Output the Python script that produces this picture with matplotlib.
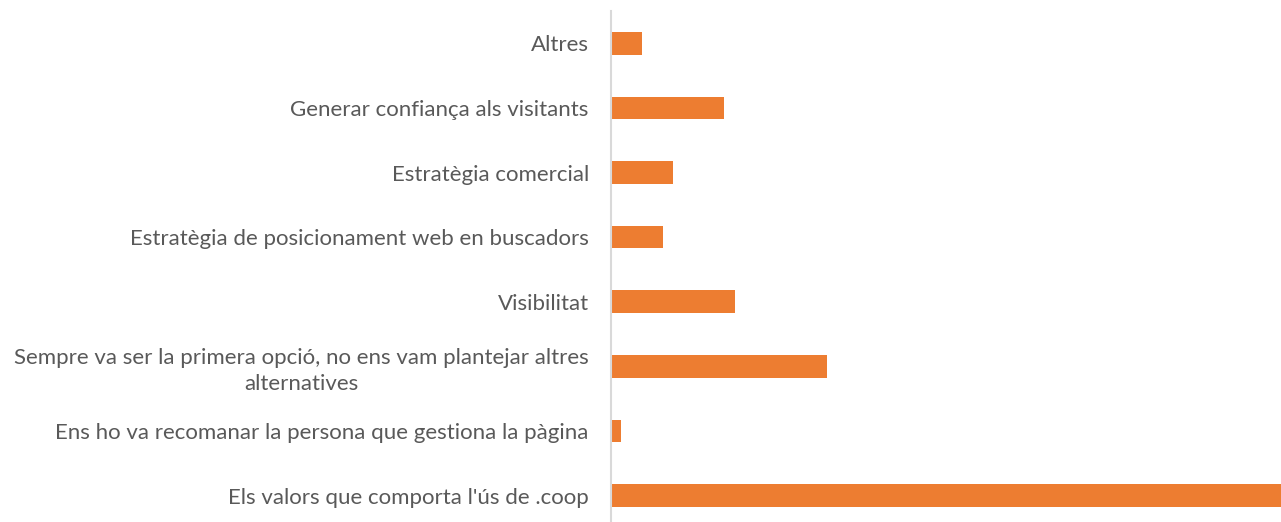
import matplotlib
matplotlib.use("Agg")
import matplotlib.pyplot as plt

# Dades (de baix a dalt)
categories = [
    "Els valors que comporta l'ús de .coop",
    "Ens ho va recomanar la persona que gestiona la pàgina",
    "Sempre va ser la primera opció, no ens vam plantejar altres\nalternatives",
    "Visibilitat",
    "Estratègia de posicionament web en buscadors",
    "Estratègia comercial",
    "Generar confiança als visitants",
    "Altres",
]
values = [65, 1, 21, 12, 5, 6, 11, 3]

BAR_COLOR = "#ED7D31"
TEXT_COLOR = "#595959"

plt.rcParams["font.family"] = ["Lato", "DejaVu Sans"]

fig = plt.figure(figsize=(12.81, 5.22), dpi=100)
ax = fig.add_axes([611 / 1281, 0, 1 - 611 / 1281, 1 - 11 / 522])

pos = range(len(categories))
ax.barh(pos, values, height=0.35, color=BAR_COLOR)

ax.set_yticks(list(pos))
ax.set_yticklabels(categories, fontsize=16, color=TEXT_COLOR)
for t in ax.get_yticklabels():
    t.set_multialignment("center")
    t.set_linespacing(1.35)
ax.tick_params(axis="y", length=0, pad=16)
ax.set_xticks([])
ax.set_xlim(0, 65)
ax.set_ylim(-0.41, 7.5)

for side in ("top", "right", "bottom"):
    ax.spines[side].set_visible(False)
ax.spines["left"].set_color("#D9D9D9")
ax.spines["left"].set_linewidth(1.5)

fig.savefig("out.png", dpi=100)
